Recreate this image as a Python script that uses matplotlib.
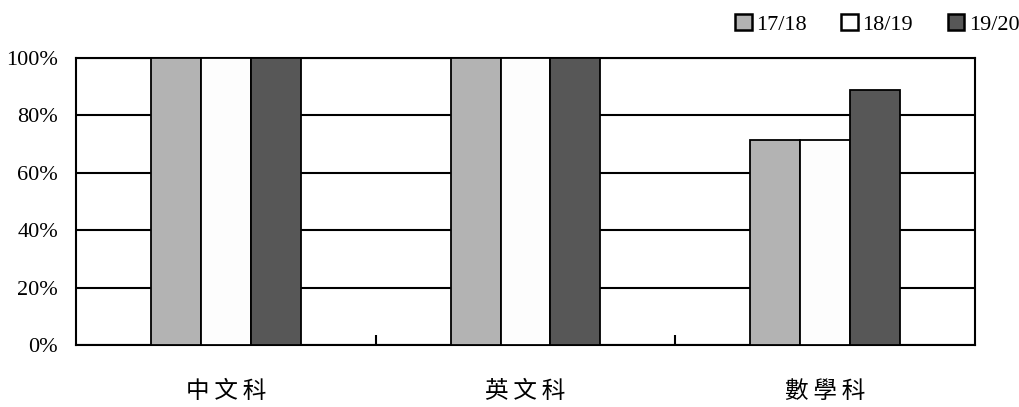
import matplotlib.pyplot as plt
from matplotlib.patches import Patch
import numpy as np

subjects = ['中文科', '英文科', '數學科']
years = ['17/18', '18/19', '19/20']
rate_1718 = [100, 100, 71.4]
rate_1819 = [100, 100, 71.4]
rate_1920 = [100, 100, 88.9]
colors = ['#b3b3b3', '#fdfdfd', '#575757']

cjk = ['Noto Sans CJK TC', 'DejaVu Sans']
serif = ['Liberation Serif', 'DejaVu Serif']

fig = plt.figure(figsize=(10.19, 4.07), dpi=100)
ax = fig.add_axes([0.0746, 0.1523, 0.8822, 0.7052])

x = np.arange(len(subjects)) + 0.5
w = 0.5 / 3
for i, vals in enumerate([rate_1718, rate_1819, rate_1920]):
    ax.bar(x + (i - 1) * w, vals, width=w, color=colors[i],
           edgecolor='black', linewidth=1.3, zorder=3)

ax.set_xlim(0, 3)
ax.set_ylim(0, 100)
ax.set_yticks([0, 20, 40, 60, 80, 100])
ax.set_yticklabels([f'{v}%' for v in range(0, 101, 20)], family=serif, fontsize=16)
ax.yaxis.grid(True, color='black', linewidth=1.5, zorder=0)
ax.tick_params(axis='y', length=0, pad=13)

ax.set_xticks([1, 2])
ax.set_xticklabels([])
ax.tick_params(axis='x', which='major', direction='in', length=7, width=1.5)
ax.set_xticks(x, minor=True)
ax.set_xticklabels(['\u2009'.join(s) for s in subjects], minor=True, family=cjk, fontsize=17)
ax.tick_params(axis='x', which='minor', length=0, pad=25)

for s in ax.spines.values():
    s.set_linewidth(1.5)
    s.set_color('black')

handles = [Patch(facecolor=c, edgecolor='black', linewidth=1.8) for c in colors]
fig.legend(handles, years, loc='upper right', bbox_to_anchor=(1.02, 1.015),
           ncol=3, frameon=False, handlelength=0.75, handleheight=0.75,
           handletextpad=0.2, columnspacing=1.55, prop={'family': serif, 'size': 16})

fig.savefig('out.png', dpi=100)
